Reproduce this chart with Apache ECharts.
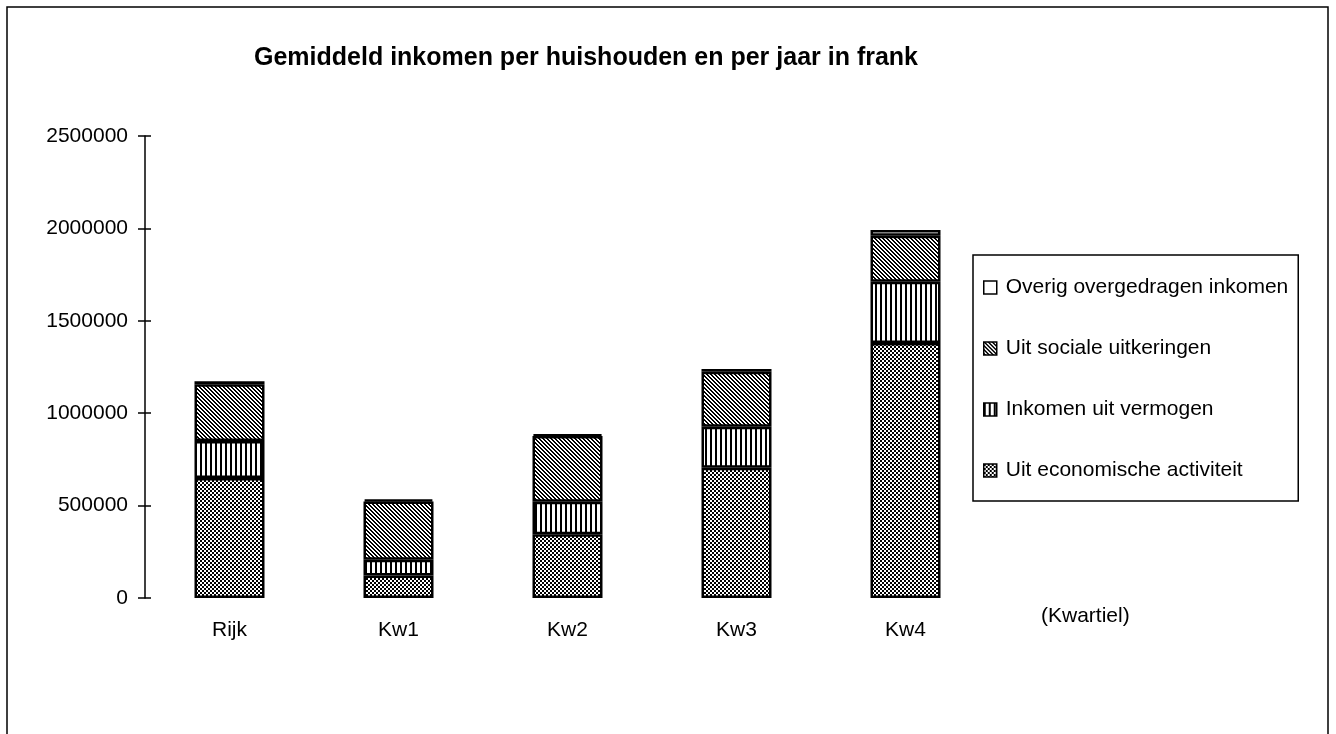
<!DOCTYPE html>
<html>
<head>
<meta charset="utf-8">
<script src="https://cdn.jsdelivr.net/npm/echarts@6/dist/echarts.min.js"></script>
<style>
html,body{margin:0;padding:0;background:#fff;}
#c{width:1336px;height:734px;}
</style>
</head>
<body>
<div id="c"></div>
<script>
const categories = ['Rijk', 'Kw1', 'Kw2', 'Kw3', 'Kw4'];
const economisch = [650000, 122000, 345000, 705000, 1380000];
const vermogen = [200000, 85000, 176000, 222000, 331000];
const sociaal = [307000, 315000, 355000, 297000, 249000];
const overig = [16000, 12000, 10000, 15000, 31000];
const yTicks = [0, 500000, 1000000, 1500000, 2000000, 2500000];
const seriesNames = ['Uit economische activiteit', 'Inkomen uit vermogen', 'Uit sociale uitkeringen', 'Overig overgedragen inkomen'];

function makePattern(w, h, isBlack) {
  const cv = document.createElement('canvas');
  cv.width = w; cv.height = h;
  const ctx = cv.getContext('2d');
  ctx.fillStyle = '#fff';
  ctx.fillRect(0, 0, w, h);
  ctx.fillStyle = '#000';
  for (let y = 0; y < h; y++) {
    for (let x = 0; x < w; x++) {
      if (isBlack(x, y)) ctx.fillRect(x, y, 1, 1);
    }
  }
  return { image: cv, repeat: 'repeat' };
}
const checkPat = makePattern(4, 4, (x, y) => (((x >> 1) + (y >> 1)) % 2) === 0);
const vertPat = makePattern(5, 5, (x, y) => x < 2);
const diagPat = makePattern(4, 4, (x, y) => ((x - y + 8) % 4) < 2);

const fills = [checkPat, vertPat, diagPat, '#ffffff'];
const values = [economisch, vermogen, sociaal, overig];

const font = 'Liberation Sans, Arial, sans-serif';
const chart = echarts.init(document.getElementById('c'), null, { renderer: 'canvas' });

const series = seriesNames.map((n, i) => ({
  name: n,
  type: 'bar',
  stack: 'total',
  barWidth: 70,
  data: values[i],
  itemStyle: { color: fills[i], borderColor: '#000', borderWidth: 2.5 },
  emphasis: { disabled: true },
  animation: false
}));

chart.setOption({
  animation: false,
  backgroundColor: '#fff',
  title: {
    text: 'Gemiddeld inkomen per huishouden en per jaar in frank',
    left: 249,
    top: 41,
    textStyle: { fontFamily: font, fontWeight: 'bold', fontSize: 25, color: '#000' }
  },
  graphic: [
    { type: 'rect', shape: { x: 7, y: 7, width: 1321, height: 800 }, style: { fill: 'none', stroke: '#000', lineWidth: 1.5 }, silent: true },
    { type: 'text', left: 1041, top: 606, style: { text: '(Kwartiel)', font: '21px ' + font, fill: '#000' }, silent: true }
  ],
  legend: {
    orient: 'vertical',
    left: 973,
    top: 255,
    data: seriesNames.slice().reverse(),
    icon: 'rect',
    itemWidth: 13,
    itemHeight: 13,
    itemGap: 40,
    padding: [22, 10, 20, 10],
    borderColor: '#000',
    borderWidth: 1.5,
    itemStyle: { borderColor: '#000', borderWidth: 1.5 },
    textStyle: { fontFamily: font, fontSize: 21, color: '#000', lineHeight: 21, padding: [0, 0, 0, 4] },
    selectedMode: false
  },
  grid: { left: 145, right: 346, top: 136, bottom: 136, containLabel: false },
  xAxis: {
    type: 'category',
    data: categories,
    axisLine: { show: false },
    axisTick: { show: false },
    axisLabel: { fontFamily: font, fontSize: 21, color: '#000', margin: 22 }
  },
  yAxis: [{
    type: 'value',
    min: yTicks[0],
    max: yTicks[yTicks.length - 1],
    interval: yTicks[1] - yTicks[0],
    axisLine: { show: true, lineStyle: { color: '#000', width: 1.5 } },
    axisTick: { show: true, length: 7, lineStyle: { color: '#000', width: 1.5 } },
    splitLine: { show: false },
    axisLabel: { fontFamily: font, fontSize: 21, color: '#000', margin: 17, formatter: v => String(v) }
  }, {
    type: 'value',
    position: 'left',
    min: yTicks[0],
    max: yTicks[yTicks.length - 1],
    interval: yTicks[1] - yTicks[0],
    axisLine: { show: false },
    axisTick: { show: true, inside: true, length: 6, lineStyle: { color: '#000', width: 1.5 } },
    splitLine: { show: false },
    axisLabel: { show: false }
  }],
  series: series
});
</script>
</body>
</html>
